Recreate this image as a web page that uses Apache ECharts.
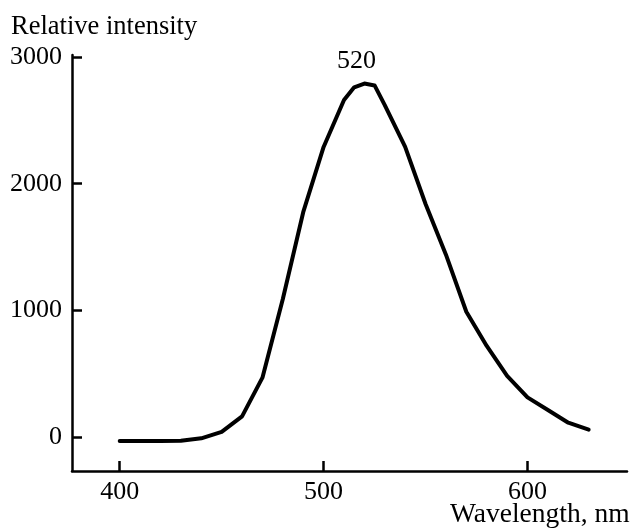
<!DOCTYPE html>
<html>
<head>
<meta charset="utf-8">
<script src="https://cdn.jsdelivr.net/npm/echarts@6/dist/echarts.min.js"></script>
<style>
  html, body { margin: 0; padding: 0; background: #fff; }
  #chart { width: 635px; height: 529px; }
</style>
</head>
<body>
<div id="chart"></div>
<script>
// Wavelength (nm) and relative intensity
const wavelengths = [400, 410, 420, 430, 440, 450, 460, 470, 480, 490, 500, 510, 515, 520, 525, 530, 540, 550, 560, 570, 580, 590, 600, 610, 620, 630];
const intensity   = [-30, -30, -30, -28, -8, 42, 165, 470, 1090, 1775, 2290, 2660, 2760, 2790, 2775, 2620, 2290, 1840, 1440, 990, 720, 485, 315, 215, 115, 60];
const xTicks = [400, 500, 600];
const yTicks = [0, 1000, 2000, 3000];
const peakWavelength = 520;
const peakLabel = '520';
const yTitle = 'Relative intensity';
const xTitle = 'Wavelength, nm';

const font = '"Liberation Serif", "Times New Roman", serif';
const peakValue = intensity[wavelengths.indexOf(peakWavelength)];

const chart = echarts.init(document.getElementById('chart'), null, { renderer: 'canvas' });
chart.setOption({
  animation: false,
  backgroundColor: '#fff',
  graphic: [
    { type: 'text', left: 11, top: 14,
      style: { text: yTitle, font: 'normal 26.5px ' + font, fill: '#000' } },
    { type: 'text', left: 450, top: 501,
      style: { text: xTitle, font: 'normal 27.5px ' + font, fill: '#000' } }
  ],
  grid: { left: 72, right: 8, top: 55, bottom: 58, containLabel: false },
  xAxis: {
    type: 'value', min: 376.6, max: 648.8,
    splitLine: { show: false },
    axisLine: { show: true, onZero: false, lineStyle: { color: '#000', width: 2.5 } },
    axisTick: { show: true, inside: true, length: 10, customValues: xTicks, lineStyle: { color: '#000', width: 2.5 } },
    axisLabel: { show: true, customValues: xTicks, margin: 8, color: '#000', fontFamily: font, fontSize: 26,
      formatter: v => String(v) }
  },
  yAxis: {
    type: 'value', min: -266, max: 3015,
    splitLine: { show: false },
    axisLine: { show: true, onZero: false, lineStyle: { color: '#000', width: 2.5 } },
    axisTick: { show: true, inside: true, length: 10, customValues: yTicks, lineStyle: { color: '#000', width: 2.5 } },
    axisLabel: { show: true, customValues: yTicks, margin: 10, color: '#000', fontFamily: font, fontSize: 26,
      formatter: v => String(v) }
  },
  series: [{
    type: 'line',
    data: wavelengths.map((w, i) => [w, intensity[i]]),
    showSymbol: false,
    symbol: 'none',
    smooth: false,
    lineStyle: { color: '#000', width: 4, join: 'round', cap: 'round' },
    markPoint: {
      symbol: 'circle', symbolSize: 0,
      data: [{ coord: [peakWavelength, peakValue] }],
      label: { show: true, position: 'top', distance: 9, offset: [-8, 0],
        formatter: peakLabel, color: '#000', fontFamily: font, fontSize: 26 }
    }
  }]
});
</script>
</body>
</html>
